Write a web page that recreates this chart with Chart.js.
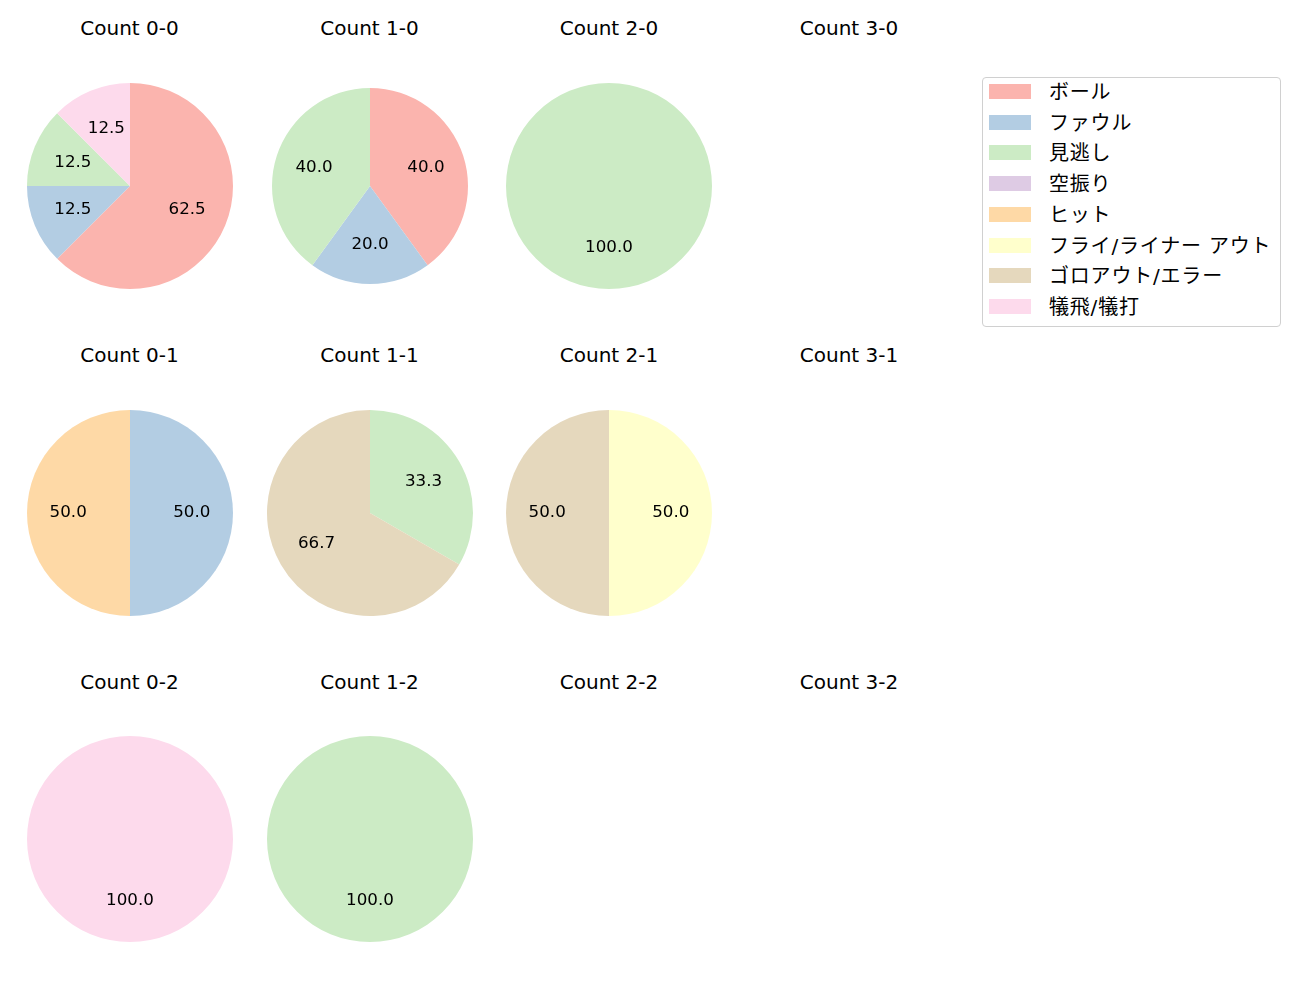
<!DOCTYPE html>
<html>
<head>
<meta charset="utf-8">
<script src="https://cdn.jsdelivr.net/npm/chart.js@4.4.1/dist/chart.umd.min.js"></script>
<style>
  body { margin: 0; background: #fff; font-family: "DejaVu Sans", "Noto Sans CJK JP", sans-serif; }
  #page { position: relative; width: 1300px; height: 1000px; }
  .title { position: absolute; width: 240px; height: 24px; line-height: 24px; text-align: center; font-size: 20px; color: #000; }
  .pie { position: absolute; width: 220px; height: 220px; }
  #legend { position: absolute; left: 982px; top: 77px; width: 297px; height: 248px;
            border: 1px solid #d0d0d0; border-radius: 4px; }
  .item { position: absolute; left: 0; width: 290px; height: 24px; }
  .swatch { position: absolute; left: 6px; top: 4px; width: 42px; height: 15px; }
  .label { position: absolute; left: 66px; top: 0; line-height: 24px; font-size: 20px; letter-spacing: 0.8px; white-space: nowrap; color: #000; }
</style>
</head>
<body>
<div id="page">
  <div id="legend"></div>
</div>
<script>
// Categories (result of the pitch)
const categories = ["ボール", "ファウル", "見逃し", "空振り", "ヒット", "フライ/ライナー アウト", "ゴロアウト/エラー", "犠飛/犠打"];
const colors = ["#fbb4ae", "#b3cde3", "#ccebc5", "#decbe4", "#fed9a6", "#ffffcc", "#e5d8bd", "#fddaec"];

// Subplot titles, row by row
const countTitles = [
    "Count 0-0", "Count 1-0", "Count 2-0", "Count 3-0",
    "Count 0-1", "Count 1-1", "Count 2-1", "Count 3-1",
    "Count 0-2", "Count 1-2", "Count 2-2", "Count 3-2"
];

// Counts per category for each ball-strike count
const count00 = [5, 1, 1, 0, 0, 0, 0, 1];
const count10 = [2, 1, 2, 0, 0, 0, 0, 0];
const count20 = [0, 0, 1, 0, 0, 0, 0, 0];
const count30 = [0, 0, 0, 0, 0, 0, 0, 0];
const count01 = [0, 1, 0, 0, 1, 0, 0, 0];
const count11 = [0, 0, 1, 0, 0, 0, 2, 0];
const count21 = [0, 0, 0, 0, 0, 1, 1, 0];
const count31 = [0, 0, 0, 0, 0, 0, 0, 0];
const count02 = [0, 0, 0, 0, 0, 0, 0, 1];
const count12 = [0, 0, 1, 0, 0, 0, 0, 0];
const count22 = [0, 0, 0, 0, 0, 0, 0, 0];
const count32 = [0, 0, 0, 0, 0, 0, 0, 0];

const allCounts = [count00, count10, count20, count30, count01, count11, count21, count31, count02, count12, count22, count32];

// Layout of the grid
const colX = [129.5, 369.5, 609, 849];
const rowY = [185.5, 512.5, 839];
const titleY = [28, 355, 682];

// Percent labels at 0.6 of the radius
const pctLabels = {
    id: "pctLabels",
    afterDatasetsDraw(chart) {
        const ctx = chart.ctx;
        const data = chart.data.datasets[0].data;
        const total = data.reduce((a, b) => a + b, 0);
        if (!total) return;
        ctx.save();
        ctx.font = "16.7px 'DejaVu Sans'";
        ctx.fillStyle = "#000";
        ctx.textAlign = "center";
        ctx.textBaseline = "middle";
        chart.getDatasetMeta(0).data.forEach((arc, i) => {
            if (!data[i]) return;
            const mid = (arc.startAngle + arc.endAngle) / 2;
            const r = arc.outerRadius * 0.6;
            const text = (data[i] / total * 100).toFixed(1);
            ctx.fillText(text, arc.x + Math.cos(mid) * r, arc.y + Math.sin(mid) * r);
        });
        ctx.restore();
    }
};

const page = document.getElementById("page");

allCounts.forEach((values, idx) => {
    const col = idx % 4;
    const row = Math.floor(idx / 4);
    const cx = colX[col];
    const cy = rowY[row];

    const title = document.createElement("div");
    title.className = "title";
    title.textContent = countTitles[idx];
    title.style.left = (cx - 120) + "px";
    title.style.top = (titleY[row] - 12) + "px";
    page.appendChild(title);

    const wrap = document.createElement("div");
    wrap.className = "pie";
    wrap.style.left = (cx - 110) + "px";
    wrap.style.top = (cy - 110) + "px";
    const canvas = document.createElement("canvas");
    canvas.width = 220;
    canvas.height = 220;
    wrap.appendChild(canvas);
    page.appendChild(wrap);

    // Count 1-0 is drawn a little smaller in the original
    const radius = idx === 1 ? 98 : 103;

    new Chart(canvas, {
        type: "pie",
        data: {
            labels: categories,
            datasets: [{
                data: values,
                backgroundColor: colors,
                borderWidth: 0
            }]
        },
        options: {
            responsive: false,
            animation: false,
            layout: { padding: 110 - radius },
            plugins: {
                legend: { display: false },
                tooltip: { enabled: false }
            }
        },
        plugins: [pctLabels]
    });
});

// Legend
const legend = document.getElementById("legend");
categories.forEach((name, i) => {
    const item = document.createElement("div");
    item.className = "item";
    item.style.top = (2 + i * 30.7) + "px";
    item.innerHTML = `<div class="swatch" style="background:${colors[i]}"></div><div class="label">${name}</div>`;
    legend.appendChild(item);
});
</script>
</body>
</html>
